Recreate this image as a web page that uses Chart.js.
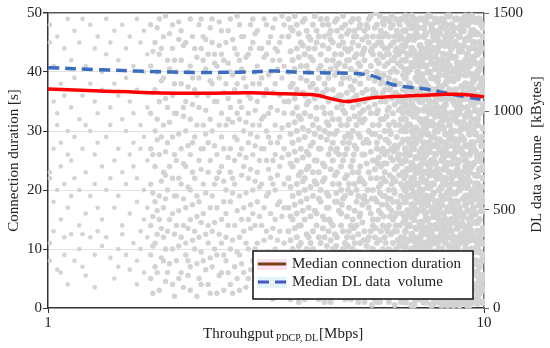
<!DOCTYPE html>
<html>
<head>
<meta charset="utf-8">
<script src="https://cdn.jsdelivr.net/npm/chart.js@4.4.0/dist/chart.umd.min.js"></script>
<style>
  body { margin: 0; background: #fff; }
  canvas { display: block; }
</style>
</head>
<body>
<canvas id="chart" width="550" height="348"></canvas>
<script>
// Median connection duration [s] vs throughput [Mbps]
const durX = [1, 1.32, 1.71, 2.23, 2.9, 3.5, 4.1, 4.5, 4.85, 5.2, 5.7, 7.0, 8.0, 9.0, 10];
const durY = [37.1, 36.8, 36.5, 36.4, 36.5, 36.3, 36.1, 35.4, 35.0, 35.3, 35.7, 36.0, 36.2, 36.2, 35.8];

// Median DL data volume [kBytes] vs throughput [Mbps]
const volX = [1, 1.3, 1.7, 2.2, 2.9, 3.3, 3.8, 4.5, 5.1, 5.6, 6.1, 6.6, 7.4, 8.3, 9.2, 10];
const volY = [1222, 1212, 1203, 1198, 1200, 1205, 1198, 1195, 1192, 1178, 1140, 1125, 1112, 1090, 1072, 1058];

const xTicks = [1, 10];

// Scatter of single connections, per throughput column: [Mbps, duration, duration, ...]
const sparseCols = [
  [1.01, 48, 45, 23, 22, 11, 8],
  [1.03, 41, 35, 27, 18, 13],
  [1.05, 46, 33, 31, 20, 6.5],
  [1.07, 38, 28, 24, 15, 6],
  [1.09, 44, 36, 21, 12, 9],
  [1.11, 49, 30, 26, 17, 4],
  [1.13, 42, 34, 25, 19, 12.5],
  [1.15, 47, 39, 29, 22, 8],
  [1.18, 45, 32, 20, 14, 10],
  [1.2, 49, 36, 27, 12.5, 7],
  [1.22, 41, 31, 23, 16, 5.5],
  [1.25, 48, 38, 30, 19, 12],
  [1.28, 44, 35, 26, 21, 9, 3.5],
  [1.3, 46, 33, 28, 17, 13],
  [1.33, 40, 37, 24, 15, 10.5],
  [1.36, 49, 43, 29, 20, 12],
  [1.39, 45, 34, 31, 22, 8.5],
  [1.42, 47, 38, 25, 17, 5],
  [1.45, 42, 36, 27, 19, 10, 7],
  [1.48, 48, 32, 23, 14, 12.5],
  [1.51, 44, 39, 30, 21, 9],
  [1.54, 46, 35, 26, 16, 6.5],
  [1.57, 41, 33, 28, 24, 11],
  [1.6, 49, 37, 22, 18, 8, 4],
  [1.63, 45, 31, 27, 13, 10],
  [1.66, 47, 40, 29, 20, 15, 6],
  [1.69, 43, 34, 25, 17, 12]
];

const midCols = [
  [1.72, 48, 41, 33, 27, 21, 14, 9, 5],
  [1.74, 43.5, 36.5, 26, 19.5, 15.5, 10.5, 2.5],
  [1.76, 45, 37, 30, 24, 18, 11, 7],
  [1.78, 47.5, 40, 32, 28.5, 16.5, 12.5, 6],
  [1.8, 49, 43, 35, 26, 19, 15, 3],
  [1.82, 44, 38.5, 29, 21.5, 13.5, 8.5],
  [1.84, 46, 39, 31, 23, 17, 12, 8],
  [1.86, 49.5, 35.5, 26.5, 22.5, 18.5, 10, 4.5],
  [1.88, 42, 34, 28, 20, 13, 6],
  [1.9, 46.5, 40.5, 31.5, 24, 15, 7.5],
  [1.93, 48, 44, 36, 29, 22, 16, 10, 4],
  [1.95, 42, 38, 33, 26, 19, 12.5, 2],
  [1.97, 40, 33, 25, 19, 14, 8],
  [1.995, 48.5, 45.5, 29.5, 22, 16.5, 10.5, 5],
  [2.02, 47, 42, 38, 27, 21, 12, 6],
  [2.045, 44.5, 34, 32.5, 24.5, 18.5, 14, 3.5],
  [2.07, 45, 35, 30, 24, 17, 11, 9],
  [2.095, 40, 37.5, 27.5, 20.5, 13.5, 8, 5.5],
  [2.12, 49, 41, 32, 26, 20, 15, 7, 3],
  [2.145, 46, 39, 34.5, 28, 23, 17.5, 11.5],
  [2.17, 44, 37, 29, 22, 13, 10],
  [2.195, 42.5, 36, 31, 19, 15.5, 7.5, 2],
  [2.22, 48, 39, 34, 25, 18, 12, 5],
  [2.245, 49, 44, 27, 23.5, 14.5, 9.5, 4],
  [2.27, 46, 42, 31, 27, 21, 16, 8],
  [2.3, 45.5, 40.5, 33.5, 29.5, 19.5, 12.5, 6.5],
  [2.33, 43, 36, 28, 23, 14, 11, 4],
  [2.355, 47.5, 38.5, 32, 25, 17, 8.5, 2.5],
  [2.38, 49, 45, 38, 30, 19, 13, 7],
  [2.41, 43, 41.5, 35, 27.5, 21, 14.5, 10],
  [2.44, 41, 35, 26, 22, 17, 9, 2.5],
  [2.47, 48.5, 44.5, 39, 31, 23, 12.5, 5.5],
  [2.5, 47, 43, 33, 29, 24, 15, 11, 6],
  [2.53, 42, 36.5, 27, 21.5, 18, 9, 3],
  [2.56, 45, 38, 31, 20, 16, 12, 8],
  [2.59, 47, 41.5, 35.5, 32, 25.5, 14, 6],
  [2.62, 49, 40, 34, 27, 23, 18, 10, 4],
  [2.65, 45.5, 39.5, 31.5, 22, 19.5, 11.5, 2.5],
  [2.68, 44, 37, 29, 25, 21, 14, 7],
  [2.715, 49.5, 43, 38, 33, 28.5, 16.5, 9.5, 5],
  [2.75, 48, 42, 35, 32, 26, 19, 12, 9, 3],
  [2.78, 46, 40.5, 34, 27, 22.5, 15, 7.5],
  [2.81, 46, 39, 30, 24, 17, 13, 6],
  [2.845, 42.5, 37.5, 31.5, 25.5, 19.5, 11, 3.5],
  [2.88, 43, 36, 33, 28, 22, 15, 10, 5],
  [2.915, 48, 44, 35.5, 29.5, 23.5, 17.5, 13.5, 6.5],
  [2.95, 49, 45, 38, 31, 26, 20, 16, 8],
  [2.985, 46.5, 40, 33.5, 27.5, 21.5, 14, 10, 2],
  [3.02, 47, 41, 35, 29, 23, 18, 11, 4],
  [3.055, 44, 38, 31, 25, 20.5, 15.5, 7.5, 5.5],
  [3.09, 44, 39, 32, 27, 21, 14, 9, 6],
  [3.13, 49, 42.5, 36, 32.5, 27, 17, 11.5, 3],
  [3.17, 48, 43, 37, 30, 25, 19, 13, 7, 2],
  [3.205, 45, 39.5, 33, 29, 23.5, 19.5, 9.5, 6],
  [3.24, 46, 40, 34, 28, 22, 16, 12, 5],
  [3.28, 47.5, 42, 36.5, 25, 21, 13.5, 8, 1.5],
  [3.32, 49, 44, 38, 31, 26, 20, 15, 10, 3],
  [3.36, 43.5, 40.5, 33.5, 28, 22.5, 17.5, 11.5, 4.5],
  [3.4, 45, 42, 36, 29, 24, 18, 13, 8],
  [3.44, 49.5, 46, 39, 30.5, 25.5, 15.5, 9, 2.5],
  [3.48, 48, 41, 35, 33, 27, 21, 17, 11, 6]
];

const denseCols = [
  [3.56, 49, 46, 40, 35, 31, 26, 22, 17, 13, 8, 4],
  [3.6, 47.5, 43.5, 37.5, 29.5, 24.5, 20.5, 15.5, 11.5, 6.5, 1.5],
  [3.64, 47, 42, 38, 33, 28, 24, 19, 15, 10, 6, 2],
  [3.68, 49.5, 40.5, 35.5, 31.5, 26.5, 17.5, 13.5, 8.5, 4.5],
  [3.72, 48, 44, 37, 34, 30, 25, 21, 16, 12, 9, 3],
  [3.76, 46.5, 42.5, 32.5, 28.5, 22.5, 19.5, 14, 10.5, 6.5, 1],
  [3.8, 45, 41, 39, 32, 27, 23, 18, 14, 11, 5],
  [3.84, 48.5, 44.5, 36.5, 30.5, 25.5, 21.5, 16.5, 9, 3.5],
  [3.88, 49, 43, 36, 33, 29, 22, 20, 15, 8, 7, 1.5],
  [3.92, 47, 41, 38.5, 34.5, 26.5, 23.5, 18.5, 12.5, 10, 4],
  [3.96, 46, 44, 40, 35, 30, 26, 24, 17, 12, 9, 4],
  [4.0, 45.5, 42.5, 37.5, 32.5, 27.5, 20.5, 15.5, 11, 6.5, 2.5],
  [4.05, 48, 42, 38, 31, 28, 23, 19, 13, 10, 5, 2],
  [4.09, 49.5, 44, 35.5, 29.5, 25, 21.5, 16.5, 8, 3.5],
  [4.13, 47, 45, 37, 34, 32, 25, 21, 16, 14, 7, 3],
  [4.18, 46, 40.5, 39, 30.5, 27, 23, 18.5, 12, 9, 1.5],
  [4.22, 49, 43, 41, 36, 29, 27, 20, 18, 11, 8, 5],
  [4.27, 48, 44.5, 36.5, 34, 24.5, 21.5, 15.5, 13.5, 6.5, 3],
  [4.31, 46, 40, 38, 33, 30, 24, 22, 15, 12, 6, 1],
  [4.36, 49, 42, 37, 31.5, 28.5, 19.5, 17, 10.5, 7.5, 2.5],
  [4.4, 48, 44, 39, 35, 31, 26, 19, 17, 13, 9, 4],
  [4.45, 47, 45.5, 40.5, 33, 27, 23.5, 14.5, 11.5, 5.5, 1],
  [4.5, 45, 42, 37, 32, 28, 25, 21, 14, 10, 7, 2],
  [4.55, 48.5, 43, 39.5, 35.5, 29.5, 22.5, 18, 12.5, 8.5, 4],
  [4.6, 49, 47, 40, 34, 30, 27, 23, 18, 12, 8, 5],
  [4.65, 44.5, 41.5, 36, 32, 26, 21, 16.5, 9.5, 6.5, 2],
  [4.7, 46, 43, 38, 36, 31, 24, 20, 16, 14, 6, 3],
  [4.75, 49.5, 45, 39, 33.5, 28, 25, 18.5, 13, 10, 3.5],
  [4.8, 48, 44, 41, 33, 29, 26, 22, 19, 11, 9, 1.5],
  [4.85, 46.5, 42, 36.5, 31, 27, 22.5, 15.5, 12, 7, 4.5],
  [4.9, 47, 42, 39, 35, 32, 28, 21, 17, 13, 7, 4],
  [4.95, 48.5, 44, 40.5, 37.5, 29, 24, 19.5, 14, 8.5, 1.5],
  [5.0, 49, 45, 37, 34, 30, 25, 23, 15, 12, 10, 2],
  [5.05, 47, 42.5, 38.5, 32.5, 27.5, 21, 16.5, 11, 6.5, 3.5],
  [5.1, 46, 43, 40, 36, 31, 27, 20, 18, 14, 8, 5],
  [5.15, 49, 44.5, 41.5, 34.5, 29.5, 23, 19, 12.5, 9.5, 1],
  [5.2, 48, 41, 38, 33, 29, 24, 22, 16, 11, 6, 3],
  [5.26, 45.5, 43, 36.5, 31.5, 26, 21.5, 17.5, 14.5, 7, 4.5],
  [5.32, 47, 44, 42, 35, 32, 26, 21, 19, 13, 9, 1],
  [5.38, 48, 46, 40, 37, 28.5, 24.5, 18, 10.5, 5.5, 2.5],
  [5.44, 49, 45, 39, 34, 30, 28, 23, 17, 12, 7, 4],
  [5.5, 49.5, 43.5, 41, 33, 26.5, 22, 16, 13, 8.5, 3],
  [5.56, 46, 43, 37, 36, 31, 25, 20, 15, 14, 10, 2],
  [5.62, 47.5, 44.5, 38.5, 34.5, 29.5, 23.5, 18.5, 12, 6, 1.5],
  [5.68, 48, 42, 40, 33, 28, 27, 22, 18, 11, 8, 5, 1],
  [5.74, 46, 41.5, 39.5, 31, 25.5, 20.5, 16.5, 9.5, 7.5, 3.5],
  [5.8, 47, 45, 38, 35, 32, 24, 21, 16, 13, 6, 3],
  [5.86, 48.5, 46, 42.5, 36.5, 27, 22, 19, 14, 10, 4.5],
  [5.92, 49, 44, 41, 37, 30, 26, 23, 19, 12, 9, 4, 2],
  [5.98, 49, 43, 38, 32.5, 28.5, 24.5, 17.5, 13.5, 5.5, 2.5],
  [6.05, 46, 43, 39, 34, 31, 28, 20, 17, 14, 10, 7, 1],
  [6.11, 47.5, 44.5, 40, 37.5, 29.5, 25.5, 18.5, 12.5, 8.5, 3],
  [6.18, 48, 45, 42, 36, 33, 25, 22, 18, 15, 11, 5, 3],
  [6.24, 46, 42.5, 38.5, 34.5, 27.5, 23.5, 19.5, 15.5, 9.5, 5.5, 0.5],
  [6.31, 47, 44, 40, 38, 29, 27, 24, 16, 13, 8, 6, 2],
  [6.38, 48.5, 45.5, 43, 36, 33.5, 26, 22.5, 17, 10.5, 7.5, 2],
  [6.45, 49, 46, 41, 35, 32, 30, 21, 19, 12, 9, 4, 1],
  [6.52, 47, 43.5, 39.5, 37, 33, 28.5, 23, 20.5, 14.5, 10.5, 5.5, 2.5]
];

// extra connections where the cloud thickens (about 4.4 to 6.6 Mbps)
const transitionCols = [
  [4.42, 46.5, 29.5, 15, 5],
  [4.58, 41, 26.5, 19.5, 10.5],
  [4.72, 47.5, 34.5, 17.5, 7.5],
  [4.88, 43.5, 29.5, 20, 10.5, 2.5],
  [5.03, 46, 35.5, 26, 13.5, 4.5],
  [5.18, 47.5, 39.5, 32, 21.5, 15.5, 6.5],
  [5.29, 43.5, 33.5, 28, 18.5, 11.5, 2],
  [5.41, 47.5, 35.5, 20, 11.5, 6],
  [5.53, 44, 29.5, 18.5, 10, 0.5],
  [5.65, 50, 36.5, 25, 13.5, 3.5],
  [5.71, 45, 33.5, 24.5, 15, 6.5],
  [5.77, 49.5, 43, 29, 19.5, 11.5, 1],
  [5.83, 44.5, 38.5, 26.5, 17.5, 8.5],
  [5.89, 48, 39.5, 32, 24.5, 15.5, 5],
  [5.95, 46.5, 35, 28.5, 21.5, 11, 7],
  [6.01, 44, 41.5, 33.5, 26.5, 18.5, 13, 4.5],
  [6.08, 48.5, 37, 30, 22.5, 15.5, 8.5, 2.5],
  [6.14, 49.5, 42, 35.5, 27, 21, 16.5, 6],
  [6.21, 45, 40.5, 31.5, 26.5, 20, 13, 8],
  [6.27, 49, 43.5, 36.5, 31, 21.5, 14, 10, 3.5],
  [6.34, 46.5, 41.5, 35, 27.5, 25.5, 18, 11.5, 4.5],
  [6.41, 48, 43.5, 38, 31, 25, 17.5, 14, 6.5],
  [6.48, 44.5, 42, 34, 28, 24.5, 16, 11, 7, 3],
  [6.56, 49, 45.5, 40.5, 35.5, 30.5, 26, 22, 18.5, 15.5, 12, 8.5, 4]
];

const packedCols = [
  [6.6, 49.5, 47, 44.5, 42, 39, 37, 34.5, 32, 30, 27, 25, 22.5, 20, 18, 15, 13, 10.5, 8, 6, 3, 1],
  [6.68, 48.5, 45.5, 43, 40, 36, 33.5, 31, 28.5, 26, 23.5, 21, 19, 16.5, 14, 11.5, 9, 7, 4.5, 2],
  [6.75, 48, 46, 43, 40.5, 38, 35.5, 33, 31, 28, 26, 23.5, 21, 19, 16, 14, 11.5, 9, 7, 4.5, 2],
  [6.83, 49.5, 47.5, 44, 41.5, 37, 34.5, 30, 27, 24.5, 22, 20.5, 17.5, 15.5, 12.5, 10, 8, 5.5, 3.5, 0.5],
  [6.9, 49, 45.5, 43.5, 41, 37, 34, 32.5, 29, 27, 24, 22, 19.5, 17, 15, 12, 10, 8, 5, 3, 0.5],
  [6.98, 48, 46.5, 42.5, 39, 35.5, 33, 30.5, 28, 25.5, 23, 21, 18.5, 16, 13.5, 11, 9, 6.5, 4, 1.5],
  [7.05, 47.5, 46, 42, 40, 38.5, 36, 33.5, 30, 28.5, 25.5, 23, 21, 18, 16.5, 13.5, 11, 9.5, 6.5, 4, 1.5],
  [7.13, 49, 44.5, 43, 41, 37, 35, 32, 29, 26.5, 24, 20, 19, 14.5, 12, 10, 7.5, 5, 2.5],
  [7.2, 49, 44, 41.5, 39.5, 37.5, 35, 31.5, 29.5, 27, 24.5, 22, 20, 17.5, 14.5, 12.5, 10, 7.5, 5.5, 2.5],
  [7.28, 47.5, 46, 42.5, 38.5, 36, 33.5, 30.5, 28, 25.5, 23, 21.5, 18, 16.5, 13.5, 11, 8.5, 6.5, 3.5, 1],
  [7.35, 48.5, 46.5, 43, 41, 38, 34, 32, 30.5, 26, 23, 21.5, 19, 16, 15, 13, 9, 8, 6, 3.5, 1],
  [7.43, 49.5, 45, 44, 40, 37.5, 35.5, 31, 29.5, 27, 24.5, 20.5, 17.5, 15, 12.5, 10, 7.5, 5, 2],
  [7.5, 49.5, 45, 42.5, 40, 36.5, 35, 33, 28, 26.5, 24, 22.5, 20.5, 18.5, 14, 11.5, 10.5, 7, 4.5, 2],
  [7.58, 48, 47, 43.5, 41.5, 39, 34, 31.5, 29, 25, 23, 21, 19, 16.5, 13, 9, 8, 6, 3.5, 0.5],
  [7.66, 47, 46, 44, 39, 37, 33.5, 31, 29, 27.5, 25, 21, 19.5, 17, 15.5, 12, 9.5, 8.5, 5, 3, 0.8],
  [7.74, 49, 45.5, 42.5, 40.5, 36, 35, 32.5, 30, 26, 24.5, 22.5, 18, 15.5, 14, 11, 7, 4.5, 2.5],
  [7.82, 48.5, 45.5, 43.5, 41.5, 38.5, 36, 34, 30, 28, 23.5, 22, 18, 16, 13.5, 11, 7.5, 6, 4, 1.5],
  [7.9, 47, 46.5, 44.5, 39.5, 37.5, 33, 31, 28.5, 27, 22.5, 20, 17, 15, 12, 10, 8.5, 5.5, 3, 1],
  [7.99, 49, 47.5, 42, 40.5, 37.5, 35.5, 32.5, 31.5, 26.5, 25, 20.5, 19, 17.5, 14.5, 12.5, 10, 8, 5.5, 2.5, 0.5],
  [8.07, 48.5, 45, 43, 41, 36.5, 34, 30.5, 28, 25.5, 23.5, 21.5, 18.5, 16, 13.5, 11.5, 7, 4.5, 2],
  [8.16, 48, 46, 44.5, 39.5, 38, 34.5, 33, 29.5, 27, 24, 22, 21, 15, 13, 11, 9, 6.5, 3.5, 1.5],
  [8.24, 49.5, 47, 42, 40, 38.5, 35.5, 32, 27.5, 26, 24.5, 19.5, 17, 14, 12, 9.5, 8, 5.5, 3, 0.5],
  [8.33, 49.5, 45, 43, 41, 37, 36.5, 31, 28.5, 26, 23, 20, 18.5, 16.5, 14, 10.5, 7.5, 5, 4, 1],
  [8.42, 48, 46, 44, 39, 36, 33, 30, 29, 24.5, 22, 21, 17.5, 15, 13, 9, 6.5, 4, 2.5],
  [8.51, 47.5, 46.5, 42.5, 40, 38.5, 35, 32, 30, 27.5, 25.5, 22.5, 19.5, 17, 12, 11.5, 9.5, 6, 2.5, 0.5],
  [8.6, 49, 45, 42.5, 40.5, 37, 34.5, 32.5, 28.5, 26.5, 23, 19.5, 18, 16, 14.5, 10.5, 8.5, 5, 3.5, 1],
  [8.69, 49, 44.5, 41.5, 39, 36, 33.5, 31.5, 28, 24.5, 23.5, 21, 18, 15.5, 13.5, 10, 8, 4.5, 3, 1.5],
  [8.78, 47.5, 46, 43.5, 41.5, 39.5, 35, 33, 30, 27, 25, 22.5, 20, 17, 12, 11, 9, 6, 3.5, 0.5],
  [8.88, 48, 47, 43.5, 40.5, 37.5, 34, 30.5, 29, 26.5, 22, 20.5, 16, 14.5, 12.5, 9, 7, 5.5, 2, 0.8],
  [8.97, 49, 47, 44.5, 41, 36.5, 35.5, 31.5, 28.5, 26, 23, 21.5, 18.5, 15.5, 14, 11.5, 8, 4.5, 2.5],
  [9.07, 49.5, 45.5, 42, 39.5, 38, 35.5, 32.5, 27.5, 25, 24, 19, 17.5, 13, 11, 10, 6.5, 3.5, 1],
  [9.16, 48, 45.5, 43, 40, 37.5, 34, 33, 30.5, 27.5, 24.5, 22, 20.5, 16.5, 12.5, 9, 7.5, 5.5, 2, 0.5],
  [9.26, 48.5, 46, 44, 41, 36.5, 33, 31, 29.5, 26, 23, 21.5, 18.5, 15, 14, 11.5, 8.5, 5, 2.5, 0.5],
  [9.36, 49.5, 47, 42, 39.5, 38, 35, 32, 28, 27, 24, 19.5, 18, 15.5, 13, 10, 6.5, 4, 1.5],
  [9.46, 47, 45, 42.5, 38.5, 37, 34.5, 30, 28, 27, 24.5, 20, 17, 16, 12, 9.5, 7.5, 4, 3, 1.5],
  [9.56, 48.5, 46.5, 44, 41.5, 36, 33.5, 31, 29.5, 26.5, 22.5, 21, 18.5, 16, 14.5, 11.5, 8, 6, 3.5, 1],
  [9.66, 49, 46.5, 43, 40, 39, 35, 32, 31, 25.5, 22.5, 21, 19, 14.5, 13, 10.5, 6, 5.5, 2, 0.8],
  [9.76, 49, 45, 43.5, 40.5, 37.5, 36, 33, 28.5, 25, 23.5, 20, 17.5, 15, 12, 9.5, 7, 4.5, 2.5],
  [9.87, 48, 44, 41.5, 38, 36, 33.5, 29, 27.5, 26, 23.5, 20.5, 18, 16.5, 12.5, 11, 8, 4.5, 3.5, 1],
  [9.96, 47.5, 46, 42, 39, 37, 34.5, 30.5, 29, 27.5, 24, 22, 19, 16.5, 13.5, 11, 9, 5.5, 3, 1]
];

const SERIF = "'Liberation Serif', 'Times New Roman', serif";
const TEXT = "#222";
const DOT = "rgb(211, 211, 211)";

function colsToPoints(cols) {
  return cols.flatMap((c) => c.slice(1).map((y) => ({ x: c[0], y: y })));
}

function dotSet(cols, r) {
  return {
    type: "scatter",
    data: colsToPoints(cols),
    backgroundColor: DOT,
    borderWidth: 0,
    pointRadius: r,
    pointHoverRadius: r,
    yAxisID: "y",
    order: 5,
    clip: 1,
  };
}

// extra texts: subscripted x title, right title (reads upward) and boxed legend
const extraText = {
  id: "extraText",
  afterDraw(chart) {
    const { ctx, chartArea } = chart;
    ctx.save();
    ctx.fillStyle = TEXT;
    ctx.textBaseline = "alphabetic";

    // x axis title with subscript
    let x = chartArea.left + 155;
    const yBase = chartArea.bottom + 30;
    ctx.font = "15px " + SERIF;
    ctx.fillText("Throuhgput", x, yBase);
    x += ctx.measureText("Throuhgput").width + 2;
    ctx.font = "10px " + SERIF;
    ctx.fillText("PDCP, DL", x, yBase + 3);
    x += ctx.measureText("PDCP, DL").width + 1;
    ctx.font = "15px " + SERIF;
    ctx.fillText("[Mbps]", x, yBase);

    // right axis title
    ctx.save();
    ctx.translate(537, (chartArea.top + chartArea.bottom) / 2 - 6);
    ctx.rotate(-Math.PI / 2);
    ctx.textAlign = "center";
    ctx.textBaseline = "middle";
    ctx.font = "15px " + SERIF;
    ctx.fillText("DL data volume  [kBytes]", 0, 0);
    ctx.restore();

    // legend box
    const lx = chartArea.left + 205;
    const ly = chartArea.bottom - 57;
    const lw = 220;
    const lh = 48;
    ctx.fillStyle = "#fff";
    ctx.fillRect(lx, ly, lw, lh);
    ctx.strokeStyle = "#111";
    ctx.lineWidth = 1.5;
    ctx.strokeRect(lx, ly, lw, lh);

    const sets = chart.data.datasets.filter((d) => d.legendColor);
    sets.forEach((d, i) => {
      const cy = ly + 13 + i * 18;
      ctx.fillStyle = d.legendBg;
      ctx.fillRect(lx + 4, cy - 5, 30, 11);
      ctx.strokeStyle = d.legendColor;
      ctx.lineWidth = 3;
      ctx.setLineDash(d.borderDash || []);
      ctx.beginPath();
      ctx.moveTo(lx + 5, cy);
      ctx.lineTo(lx + 33, cy);
      ctx.stroke();
      ctx.setLineDash([]);
      ctx.fillStyle = TEXT;
      ctx.font = "15px " + SERIF;
      ctx.textBaseline = "middle";
      ctx.fillText(d.label, lx + 39, cy);
    });
    ctx.restore();
  },
};

const ctx = document.getElementById("chart").getContext("2d");
const chart = new Chart(ctx, {
  type: "scatter",
  data: {
    datasets: [
      {
        type: "line",
        label: "Median connection duration",
        data: durX.map((x, i) => ({ x: x, y: durY[i] })),
        borderColor: "#ff0000",
        borderWidth: 3.5,
        pointRadius: 0,
        tension: 0.35,
        yAxisID: "y",
        order: 0,
        legendColor: "#7a3f12",
        legendBg: "#fbe4ee",
      },
      {
        type: "line",
        label: "Median DL data  volume",
        data: volX.map((x, i) => ({ x: x, y: volY[i] })),
        borderColor: "#3a6cc0",
        borderWidth: 3.5,
        borderDash: [11, 6],
        pointRadius: 0,
        tension: 0.35,
        yAxisID: "y2",
        order: 1,
        legendColor: "#4656c4",
        legendBg: "#e2f4f6",
      },
      dotSet(sparseCols, 2.3),
      dotSet(midCols, 2.7),
      dotSet(denseCols, 3.0),
      dotSet(transitionCols, 3.0),
      dotSet(packedCols, 3.5),
    ],
  },
  plugins: [extraText],
  options: {
    responsive: false,
    animation: false,
    layout: { padding: { top: 13, left: 0, right: 0, bottom: 0 } },
    plugins: {
      legend: { display: false },
      tooltip: { enabled: false },
    },
    scales: {
      x: {
        type: "logarithmic",
        min: 1,
        max: 10,
        afterBuildTicks: (scale) => {
          scale.ticks = xTicks.map((v) => ({ value: v }));
        },
        afterFit: (scale) => {
          scale.height = 40;
        },
        ticks: {
          font: { family: SERIF, size: 15 },
          color: TEXT,
          padding: 1,
          maxRotation: 0,
          callback: (v) => String(v),
        },
        grid: { drawOnChartArea: false, tickLength: 5, tickColor: "#333" },
        border: { color: "#333", width: 1.5 },
      },
      y: {
        position: "left",
        min: 0,
        max: 50,
        afterFit: (scale) => {
          scale.width = 48;
        },
        ticks: {
          stepSize: 10,
          font: { family: SERIF, size: 15 },
          color: TEXT,
          padding: 1,
        },
        grid: {
          color: (c) =>
            c.tick.value === 50 ? "#555" : c.tick.value === 0 ? "rgba(0,0,0,0)" : "#e2e2e2",
          lineWidth: (c) => (c.tick.value === 50 ? 1.5 : 1),
          tickLength: 5,
          tickColor: "#333",
        },
        border: { color: "#333", width: 1.5 },
        title: {
          display: true,
          text: "Connection duration [s]",
          font: { family: SERIF, size: 15 },
          color: TEXT,
          padding: { top: 5, bottom: 0 },
        },
      },
      y2: {
        position: "right",
        min: 0,
        max: 1500,
        afterFit: (scale) => {
          scale.width = 66;
        },
        ticks: {
          stepSize: 500,
          font: { family: SERIF, size: 15 },
          color: TEXT,
          padding: 4,
          callback: (v) => String(v),
        },
        grid: { drawOnChartArea: false, tickLength: 5, tickColor: "#666" },
        border: { color: "#777", width: 1.5, dash: [7, 4] },
      },
    },
  },
});
</script>
</body>
</html>
